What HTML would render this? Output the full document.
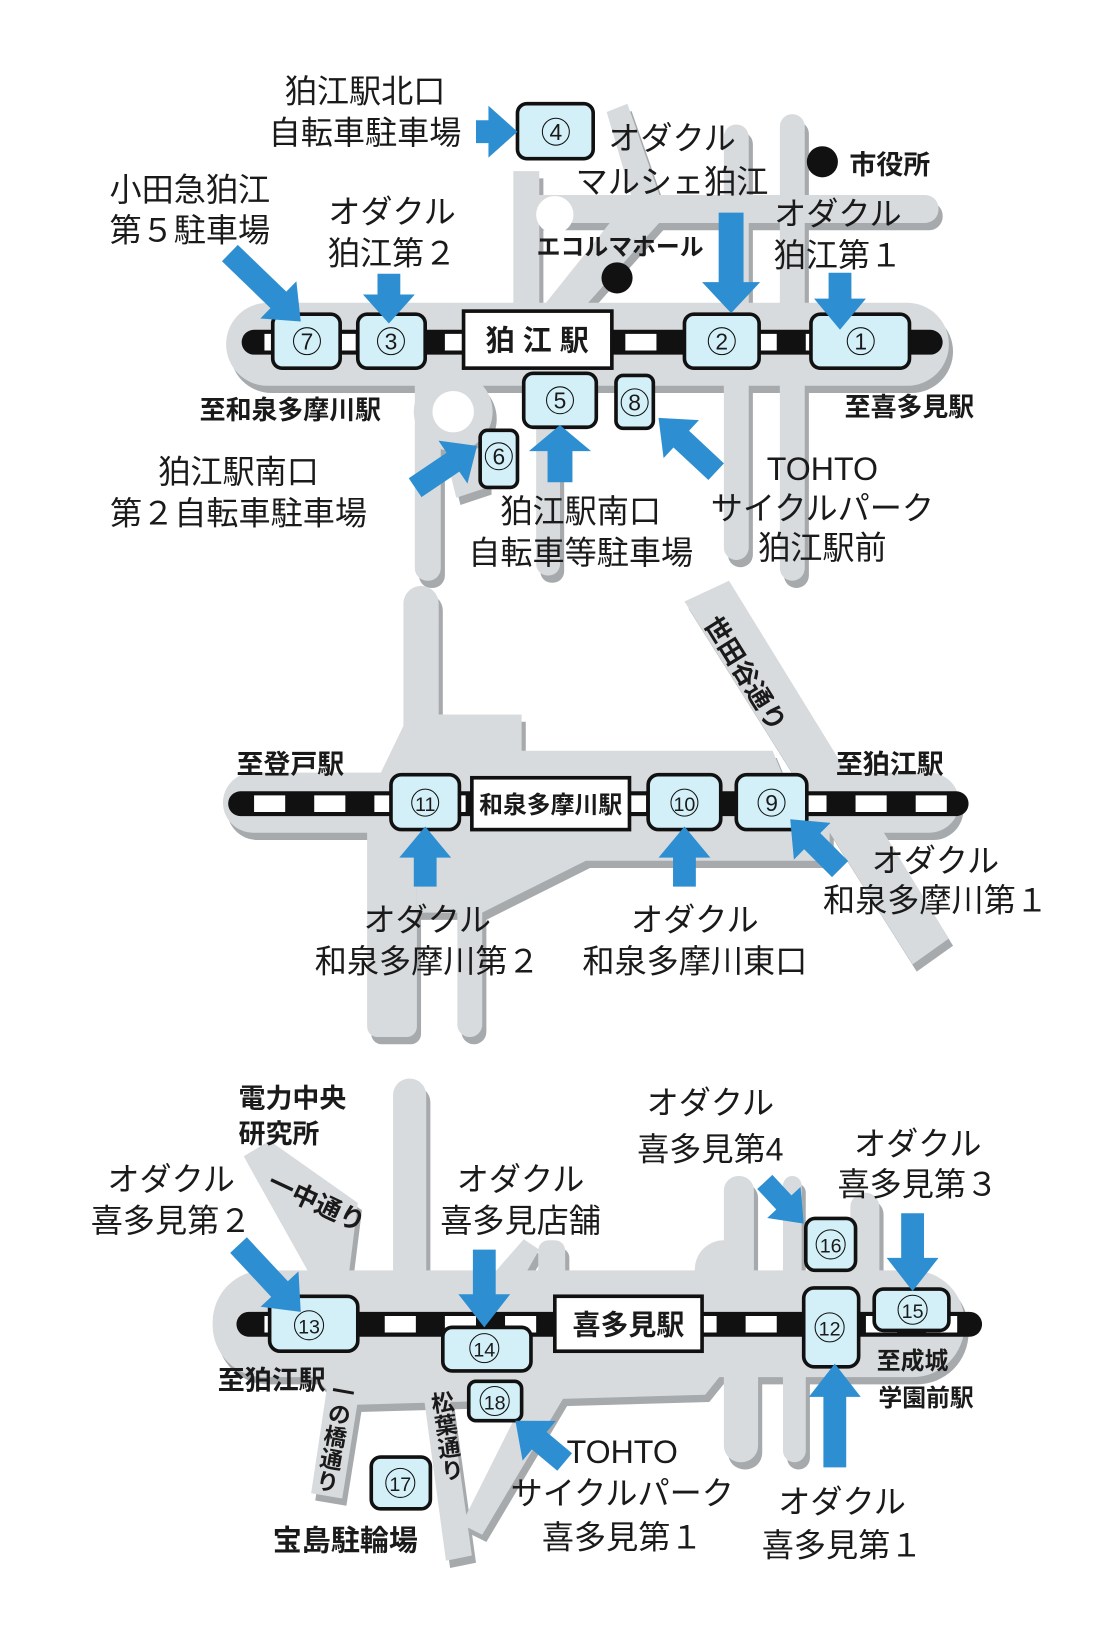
<!DOCTYPE html>
<html><head><meta charset="utf-8">
<style>
html,body{margin:0;padding:0;background:#fff;}
svg{display:block;}
text{font-family:"Liberation Sans","Noto Sans CJK JP",sans-serif;fill:#1a1a1a;}
.l{font-size:31px;text-anchor:middle;}
.b{font-size:25px;font-weight:bold;text-anchor:middle;}
.n{font-size:22px;text-anchor:middle;}
.st{font-size:28px;font-weight:bold;text-anchor:middle;}
.v{font-size:22px;font-weight:bold;writing-mode:vertical-rl;text-anchor:middle;}
.node{fill:#d3f0f8;stroke:#111;stroke-width:3.5;}
.arr{fill:#2d8fd2;}
</style></head><body>
<svg width="1120" height="1625" viewBox="0 0 1080 1567" xmlns="http://www.w3.org/2000/svg">
<defs>
<g id="roads">
 <rect x="218" y="292" width="697" height="80" rx="40"/>
 <rect x="495" y="165" width="25" height="140"/>
 <rect x="500" y="188" width="405" height="27" rx="13"/>
 <polygon points="520,300 560,300 640,210 600,200"/>
 <polygon points="585,108 605,100 640,200 615,210"/>
 <rect x="698" y="120" width="24" height="420" rx="12"/>
 <rect x="752" y="110" width="24" height="450" rx="12"/>
 <rect x="400" y="330" width="25" height="230" rx="12"/>
 <circle cx="437" cy="397" r="38"/>
 <rect x="517" y="360" width="23" height="195" rx="11"/>
 <polygon points="430,440 470,430 470,470 440,480"/>
 <rect x="215" y="745" width="710" height="58" rx="29"/>
 <rect x="389" y="565" width="34" height="190" rx="17"/>
 <polygon points="389,700 423,689 503,689 503,724 745,724 760,760 360,760"/>
 <polygon points="660,580 703,560 915,905 880,930"/>
 <rect x="354" y="790" width="48" height="210" rx="10"/>
 <rect x="441" y="790" width="24" height="210" rx="12"/>
 <polygon points="402,800 800,800 800,830 565,830 465,880 402,880"/>
 <rect x="205" y="1225" width="725" height="103" rx="50"/>
 <rect x="379" y="1040" width="32" height="200" rx="16"/>
 <polygon points="235,1115 260,1100 345,1160 335,1240 305,1240"/>
 <polygon points="470,1235 505,1195 520,1205 500,1240"/>
 <rect x="519" y="1196" width="26" height="40" rx="10"/>
 <rect x="670" y="1196" width="57" height="60" rx="28"/>
 <rect x="698" y="1134" width="29" height="100" rx="14"/>
 <rect x="755" y="1134" width="18" height="100" rx="9"/>
 <rect x="820" y="1150" width="28" height="90" rx="14"/>
 <rect x="698" y="1300" width="33" height="110" rx="16"/>
 <rect x="755" y="1300" width="22" height="110" rx="11"/>
 <polygon points="318,1320 350,1320 330,1445 300,1440"/>
 <polygon points="405,1320 430,1320 455,1500 430,1505"/>
 <polygon points="520,1320 560,1320 465,1480 445,1470"/>
 <polygon points="295,1320 700,1320 680,1345 330,1355"/>
</g>
</defs>
<use href="#roads" transform="translate(4,7)" fill="#a7aaac"/>
<use href="#roads" fill="#d8dbdd"/>
<circle cx="437" cy="397" r="20" fill="#fff"/>
<circle cx="535" cy="207" r="18" fill="#fff"/>

<g stroke-linecap="round">
 <line x1="245" y1="330" x2="897" y2="330" stroke="#111" stroke-width="24"/>
 <line x1="232" y1="775" x2="922" y2="775" stroke="#111" stroke-width="24"/>
 <line x1="240" y1="1277" x2="935" y2="1277" stroke="#111" stroke-width="24"/>
</g>
<g stroke="#fff" stroke-width="16">
 <line x1="255" y1="330" x2="890" y2="330" stroke-dasharray="30 28"/>
 <line x1="245" y1="775" x2="915" y2="775" stroke-dasharray="30 28"/>
 <line x1="255" y1="1277" x2="930" y2="1277" stroke-dasharray="30 28"/>
</g>

<rect class="node" x="263" y="303" width="65" height="52" rx="9"/><circle cx="296" cy="329" r="13" fill="none" stroke="#111" stroke-width="1"/><text class="n" x="296" y="337">7</text>
<rect class="node" x="345" y="303" width="65" height="52" rx="9"/><circle cx="377" cy="329" r="13" fill="none" stroke="#111" stroke-width="1"/><text class="n" x="377" y="337">3</text>
<rect x="447" y="300" width="143" height="55" fill="#fff" stroke="#111" stroke-width="3.5"/><text class="st" x="518" y="338">狛 江 駅</text>
<rect class="node" x="660" y="303" width="72" height="52" rx="9"/><circle cx="696" cy="329" r="13" fill="none" stroke="#111" stroke-width="1"/><text class="n" x="696" y="337">2</text>
<rect class="node" x="782" y="303" width="95" height="52" rx="9"/><circle cx="830" cy="329" r="13" fill="none" stroke="#111" stroke-width="1"/><text class="n" x="830" y="337">1</text>
<rect class="node" x="505" y="360" width="70" height="52" rx="9"/><circle cx="540" cy="386" r="13" fill="none" stroke="#111" stroke-width="1"/><text class="n" x="540" y="394">5</text>
<rect class="node" x="594" y="362" width="36" height="51" rx="7"/><circle cx="612" cy="388" r="13" fill="none" stroke="#111" stroke-width="1"/><text class="n" x="612" y="396">8</text>
<rect class="node" x="463" y="415" width="36" height="55" rx="7"/><circle cx="481" cy="440" r="13" fill="none" stroke="#111" stroke-width="1"/><text class="n" x="481" y="448">6</text>
<rect class="node" x="499" y="100" width="73" height="53" rx="9"/><circle cx="536" cy="127" r="13" fill="none" stroke="#111" stroke-width="1"/><text class="n" x="536" y="135">4</text>

<rect class="node" x="377" y="747" width="66" height="53" rx="10"/><circle cx="410" cy="774" r="13" fill="none" stroke="#111" stroke-width="1"/><text class="n" x="410" y="782" style="font-size:19px">11</text>
<rect x="455" y="750" width="152" height="50" fill="#fff" stroke="#111" stroke-width="3.5"/><text class="b" x="531" y="784" style="font-size:23px">和泉多摩川駅</text>
<rect class="node" x="625" y="747" width="70" height="53" rx="10"/><circle cx="660" cy="774" r="13" fill="none" stroke="#111" stroke-width="1"/><text class="n" x="660" y="782" style="font-size:19px">10</text>
<rect class="node" x="710" y="747" width="68" height="53" rx="10"/><circle cx="744" cy="774" r="13" fill="none" stroke="#111" stroke-width="1"/><text class="n" x="744" y="782">9</text>

<rect class="node" x="260" y="1250" width="85" height="53" rx="10"/><circle cx="298" cy="1278" r="14" fill="none" stroke="#111" stroke-width="1"/><text class="n" x="298" y="1286" style="font-size:19px">13</text>
<rect class="node" x="427" y="1280" width="85" height="42" rx="9"/><circle cx="467" cy="1300" r="14" fill="none" stroke="#111" stroke-width="1"/><text class="n" x="467" y="1308" style="font-size:19px">14</text>
<rect x="535" y="1250" width="142" height="53" fill="#fff" stroke="#111" stroke-width="3.5"/><text class="st" x="606" y="1287" style="font-size:27px">喜多見駅</text>
<rect class="node" x="775" y="1242" width="53" height="76" rx="10"/><circle cx="800" cy="1280" r="14" fill="none" stroke="#111" stroke-width="1"/><text class="n" x="800" y="1288" style="font-size:19px">12</text>
<rect class="node" x="843" y="1243" width="72" height="40" rx="9"/><circle cx="880" cy="1263" r="14" fill="none" stroke="#111" stroke-width="1"/><text class="n" x="880" y="1271" style="font-size:19px">15</text>
<rect class="node" x="777" y="1175" width="48" height="50" rx="9"/><circle cx="801" cy="1200" r="14" fill="none" stroke="#111" stroke-width="1"/><text class="n" x="801" y="1208" style="font-size:19px">16</text>
<rect class="node" x="452" y="1332" width="51" height="38" rx="7"/><circle cx="477" cy="1351" r="14" fill="none" stroke="#111" stroke-width="1"/><text class="n" x="477" y="1359" style="font-size:19px">18</text>
<rect class="node" x="358" y="1405" width="57" height="50" rx="9"/><circle cx="386" cy="1430" r="14" fill="none" stroke="#111" stroke-width="1"/><text class="n" x="386" y="1438" style="font-size:19px">17</text>

<g class="arr">
 <g transform="translate(499,127) rotate(0)"><polygon points="0,0 -28,-25 -28,-11 -40,-11 -40,11 -28,11 -28,25"/></g>
 <g transform="translate(290,310) rotate(44)"><polygon points="0,0 -30,-25 -30,-11 -95,-11 -95,11 -30,11 -30,25"/></g>
 <g transform="translate(375,312) rotate(90)"><polygon points="0,0 -28,-25 -28,-11 -48,-11 -48,11 -28,11 -28,25"/></g>
 <g transform="translate(705,302) rotate(90)"><polygon points="0,0 -30,-28 -30,-12 -97,-12 -97,12 -30,12 -30,28"/></g>
 <g transform="translate(810,318) rotate(90)"><polygon points="0,0 -30,-25 -30,-11 -55,-11 -55,11 -30,11 -30,25"/></g>
 <g transform="translate(540,410) rotate(-90)"><polygon points="0,0 -25,-30 -25,-12 -55,-12 -55,12 -25,12 -25,30"/></g>
 <g transform="translate(460,430) rotate(-34)"><polygon points="0,0 -28,-25 -28,-11 -72,-11 -72,11 -28,11 -28,25"/></g>
 <g transform="translate(635,403) rotate(-137)"><polygon points="0,0 -30,-25 -30,-11 -76,-11 -76,11 -30,11 -30,25"/></g>
 <g transform="translate(410,797) rotate(-90)"><polygon points="0,0 -30,-25 -30,-11 -58,-11 -58,11 -30,11 -30,25"/></g>
 <g transform="translate(660,797) rotate(-90)"><polygon points="0,0 -30,-25 -30,-11 -58,-11 -58,11 -30,11 -30,25"/></g>
 <g transform="translate(762,790) rotate(-135)"><polygon points="0,0 -30,-25 -30,-11 -68,-11 -68,11 -30,11 -30,25"/></g>
 <g transform="translate(290,1265) rotate(47)"><polygon points="0,0 -30,-25 -30,-11 -88,-11 -88,11 -30,11 -30,25"/></g>
 <g transform="translate(467,1280) rotate(90)"><polygon points="0,0 -32,-25 -32,-11 -75,-11 -75,11 -32,11 -32,25"/></g>
 <g transform="translate(775,1180) rotate(47)"><polygon points="0,0 -28,-22 -28,-10 -55,-10 -55,10 -28,10 -28,22"/></g>
 <g transform="translate(880,1245) rotate(90)"><polygon points="0,0 -32,-25 -32,-11 -75,-11 -75,11 -32,11 -32,25"/></g>
 <g transform="translate(805,1315) rotate(-90)"><polygon points="0,0 -32,-25 -32,-11 -100,-11 -100,11 -32,11 -32,25"/></g>
 <g transform="translate(497,1370) rotate(-140)"><polygon points="0,0 -30,-25 -30,-11 -62,-11 -62,11 -30,11 -30,25"/></g>
</g>

<circle cx="793" cy="156" r="15" fill="#111"/>
<circle cx="595" cy="268" r="15" fill="#111"/>

<text class="l" x="352" y="99">狛江駅北口</text>
<text class="l" x="352" y="139">自転車駐車場</text>
<text class="l" x="648" y="144">オダクル</text>
<text class="l" x="648" y="186">マルシェ狛江</text>
<text class="b" x="858" y="168" style="font-size:26px">市役所</text>
<text class="l" x="183" y="194">小田急狛江</text>
<text class="l" x="183" y="233">第５駐車場</text>
<text class="l" x="378" y="215">オダクル</text>
<text class="l" x="378" y="255">狛江第２</text>
<text class="b" x="598" y="246" style="font-size:23px">エコルマホール</text>
<text class="l" x="808" y="217">オダクル</text>
<text class="l" x="808" y="257">狛江第１</text>
<text class="b" x="280" y="404">至和泉多摩川駅</text>
<text class="b" x="877" y="401">至喜多見駅</text>
<text class="l" x="230" y="466">狛江駅南口</text>
<text class="l" x="230" y="506">第２自転車駐車場</text>
<text class="l" x="560" y="504">狛江駅南口</text>
<text class="l" x="560" y="544">自転車等駐車場</text>
<text class="l" x="793" y="463">TOHTO</text>
<text class="l" x="793" y="501">サイクルパーク</text>
<text class="l" x="793" y="539">狛江駅前</text>

<text class="b" x="718" y="658" transform="rotate(58 718 650)">世田谷通り</text>
<text class="b" x="280" y="746" style="font-size:26px">至登戸駅</text>
<text class="b" x="858" y="746" style="font-size:26px">至狛江駅</text>
<text class="l" x="412" y="898">オダクル</text>
<text class="l" x="412" y="938">和泉多摩川第２</text>
<text class="l" x="670" y="898">オダクル</text>
<text class="l" x="670" y="938">和泉多摩川東口</text>
<text class="l" x="902" y="841">オダクル</text>
<text class="l" x="902" y="879">和泉多摩川第１</text>

<text class="b" x="230" y="1068" style="text-anchor:start;font-size:26px">電力中央</text>
<text class="b" x="230" y="1102" style="text-anchor:start;font-size:26px">研究所</text>
<text class="l" x="165" y="1148">オダクル</text>
<text class="l" x="165" y="1188">喜多見第２</text>
<text class="b" x="305" y="1168" transform="rotate(25 305 1160)">一中通り</text>
<text class="l" x="502" y="1148">オダクル</text>
<text class="l" x="502" y="1188">喜多見店舗</text>
<text class="l" x="685" y="1074">オダクル</text>
<text class="l" x="685" y="1119">喜多見第4</text>
<text class="l" x="885" y="1114">オダクル</text>
<text class="l" x="885" y="1153">喜多見第３</text>
<text class="b" x="262" y="1340" style="font-size:26px">至狛江駅</text>
<text class="b" x="880" y="1320" style="font-size:23px">至成城</text>
<text class="b" x="893" y="1356" style="font-size:23px">学園前駅</text>
<text class="v" x="322" y="1385" transform="rotate(10 322 1385)">一の橋通り</text>
<text class="v" x="430" y="1385" transform="rotate(-8 430 1385)">松葉通り</text>
<text class="b" x="333" y="1495" style="font-size:28px">宝島駐輪場</text>
<text class="l" x="600" y="1411">TOHTO</text>
<text class="l" x="600" y="1451">サイクルパーク</text>
<text class="l" x="600" y="1493">喜多見第１</text>
<text class="l" x="812" y="1459">オダクル</text>
<text class="l" x="812" y="1501">喜多見第１</text>
</svg>
</body></html>
